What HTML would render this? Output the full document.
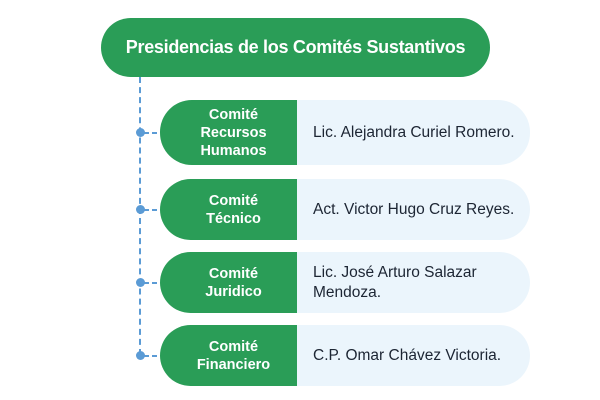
<!DOCTYPE html>
<html><head><style>
body{margin:0;width:600px;height:400px;background:#fff;position:relative;font-family:"Liberation Sans",sans-serif;overflow:hidden}
.hd{position:absolute;left:101px;top:18px;width:389px;height:59px;background:#2a9d57;border-radius:30px;color:#fff;font-weight:bold;font-size:18px;display:flex;align-items:center;justify-content:center;letter-spacing:-0.3px}
.vl{position:absolute;left:139px;top:77px;height:278px;border-left:2px dashed #5b9bd5}
.row{position:absolute;left:160px;width:370px}
.g{position:absolute;left:0;top:0;bottom:0;width:137px;background:#2a9d57;border-radius:32px 0 0 32px;color:#fff;font-weight:bold;font-size:14.5px;display:flex;align-items:center;justify-content:center;text-align:center;line-height:18px;padding-left:10px;box-sizing:border-box}
.l{position:absolute;left:137px;right:0;top:0;bottom:0;background:#ebf5fc;border-radius:0 32px 32px 0;color:#1c2533;font-size:15.5px;display:flex;align-items:center;padding-left:16px;line-height:20px}
.dot{position:absolute;left:-24px;width:9px;height:9px;border-radius:50%;background:#5b9bd5;top:50%;margin-top:-4.5px}
.dh{position:absolute;left:-16px;width:16px;height:2px;top:50%;margin-top:-1px;background:repeating-linear-gradient(90deg,#5b9bd5 0 5px,transparent 5px 8px)}
</style></head><body>
<div class="hd">Presidencias de los Comités Sustantivos</div>
<div class="vl"></div>
<div class="row" style="top:100px;height:65px"><div class="dot"></div><div class="dh"></div><div class="g">Comité<br>Recursos<br>Humanos</div><div class="l">Lic. Alejandra Curiel Romero.</div></div>
<div class="row" style="top:179px;height:61px"><div class="dot"></div><div class="dh"></div><div class="g">Comité<br>Técnico</div><div class="l">Act. Victor Hugo Cruz Reyes.</div></div>
<div class="row" style="top:252px;height:61px"><div class="dot"></div><div class="dh"></div><div class="g">Comité<br>Juridico</div><div class="l">Lic. José Arturo Salazar<br>Mendoza.</div></div>
<div class="row" style="top:325px;height:61px"><div class="dot"></div><div class="dh"></div><div class="g">Comité<br>Financiero</div><div class="l">C.P. Omar Chávez Victoria.</div></div>
</body></html>
